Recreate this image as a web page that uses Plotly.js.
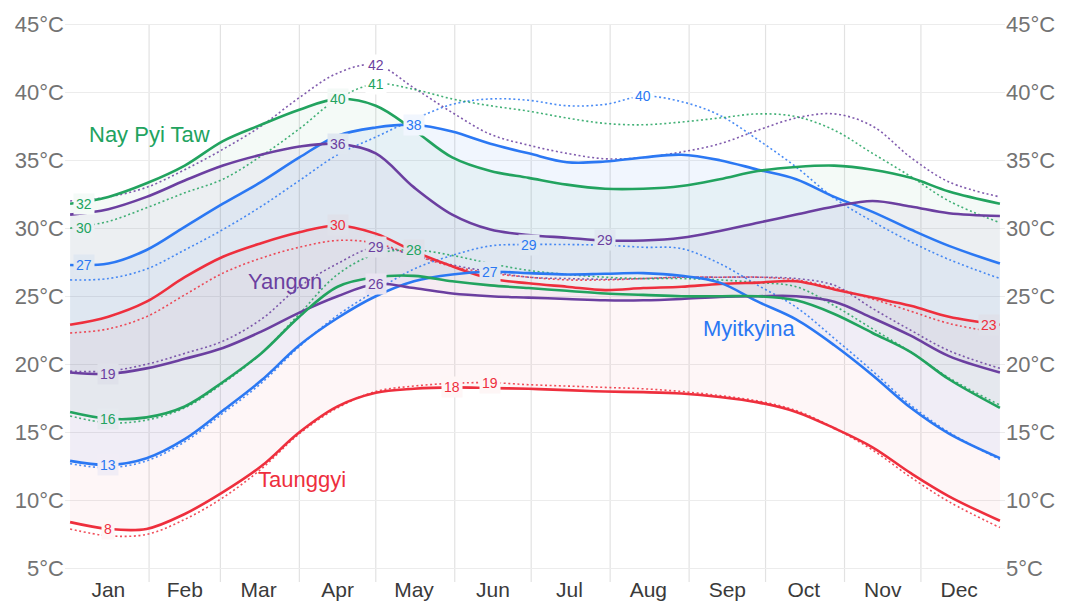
<!DOCTYPE html>
<html>
<head>
<meta charset="utf-8">
<script src="https://cdn.plot.ly/plotly-3.0.1.min.js"></script>
<style>body{margin:0;background:#fff}#chart{width:1065px;height:601px}</style>
</head>
<body>
<div id="chart"></div>
<script>
// day of year (0 = Jan 1)
const days = [0,15,30,45,60,75,90,105,120,135,150,165,180,195,210,225,240,255,270,285,300,315,330,345,365];

const monthNames = ['Jan','Feb','Mar','Apr','May','Jun','Jul','Aug','Sep','Oct','Nov','Dec'];
const monthMid = [15,45,74,105,135,166,196,227,258,288,319,349];
const monthStart = [31,59,90,120,151,181,212,243,273,304,334];
const tempTicks = [5,10,15,20,25,30,35,40,45];

// Nay Pyi Taw
const nptHigh     = [31.8,32.3,33.3,34.6,36.4,37.6,38.7,39.5,39.0,37.2,35.2,34.2,33.7,33.2,32.9,32.9,33.1,33.6,34.2,34.5,34.6,34.3,33.7,32.7,31.8];
const nptHighFeel = [30.0,30.5,31.5,32.6,33.6,35.3,37.3,39.5,40.6,40.2,39.5,39.0,38.6,38.1,37.7,37.6,37.8,38.1,38.4,38.2,37.2,35.5,33.8,32.0,30.4];
const nptLow      = [16.5,16.0,16.1,16.9,18.7,20.8,23.5,25.7,26.4,26.5,26.1,25.8,25.6,25.4,25.2,25.1,25.0,25.0,25.0,24.7,23.7,22.3,20.9,18.9,16.8];
const nptLowFeel  = [16.2,15.7,15.9,16.8,18.6,20.8,23.7,26.6,28.1,28.4,28.0,27.4,26.9,26.6,26.4,26.3,26.3,26.2,26.0,25.7,24.3,22.6,20.9,19.0,17.0];

// Yangon
const ygnHigh     = [31.0,31.4,32.3,33.5,34.6,35.4,36.0,36.2,35.5,33.0,31.0,29.9,29.5,29.3,29.1,29.1,29.3,29.8,30.4,31.0,31.6,32.0,31.6,31.1,30.9];
const ygnHighFeel = [32.0,32.3,33.0,34.3,35.8,37.5,39.6,41.4,42.0,40.3,38.5,36.9,36.1,35.5,35.1,35.2,35.6,36.2,37.2,38.1,38.4,37.5,35.2,33.4,32.3];
const ygnLow      = [19.4,19.3,19.7,20.4,21.2,22.4,23.8,25.0,25.9,25.6,25.2,25.0,24.9,24.8,24.7,24.7,24.8,24.95,25.0,25.0,24.6,23.4,22.1,20.6,19.4];
const ygnLowFeel  = [19.5,19.5,20.0,20.8,21.7,23.3,25.7,27.4,28.6,28.0,27.3,26.8,26.4,26.3,26.25,26.3,26.4,26.4,26.4,26.3,25.8,24.1,22.5,21.0,19.7];

// Myitkyina
const mktHigh     = [27.3,27.4,28.4,30.1,31.8,33.4,35.2,36.8,37.4,37.6,37.1,36.2,35.5,34.85,34.9,35.2,35.4,35.0,34.3,33.6,32.3,31.2,29.9,28.7,27.4];
const mktHighFeel = [26.2,26.3,27.0,28.4,29.9,31.6,33.5,35.4,36.7,38.0,39.1,39.5,39.4,39.0,39.1,39.7,39.3,38.3,36.5,34.5,32.2,30.5,29.0,27.7,26.3];
const mktLow      = [12.9,12.6,13.1,14.5,16.6,18.8,21.4,23.4,25.0,26.1,26.6,26.8,26.7,26.6,26.65,26.7,26.5,26.0,24.6,23.3,21.4,19.2,16.8,14.9,13.1];
const mktLowFeel  = [12.7,12.4,12.9,14.3,16.4,18.6,21.3,23.6,25.4,27.0,28.0,28.7,28.8,28.8,28.75,28.6,28.5,27.4,25.8,24.2,21.9,19.5,17.0,15.0,13.0];

// Taunggyi
const tgyHigh     = [22.9,23.5,24.6,26.4,27.9,28.9,29.7,30.2,29.6,28.3,27.2,26.3,25.95,25.7,25.45,25.6,25.7,25.9,26.0,26.1,25.5,24.9,24.3,23.5,22.9];
const tgyHighFeel = [22.3,22.6,23.5,25.1,26.7,27.8,28.6,29.1,28.9,28.0,27.2,26.7,26.4,26.2,26.2,26.3,26.4,26.4,26.4,26.2,25.6,24.8,23.9,23.0,22.3];
const tgyLow      = [8.4,7.9,7.9,9.0,10.6,12.5,15.0,16.9,17.9,18.2,18.3,18.25,18.2,18.1,18.0,17.95,17.85,17.6,17.2,16.5,15.3,13.9,12.0,10.3,8.5];
const tgyLowFeel  = [7.9,7.4,7.5,8.6,10.2,12.3,14.9,16.8,18.0,18.4,18.6,18.65,18.5,18.4,18.3,18.2,18.0,17.7,17.3,16.6,15.3,13.7,11.7,9.9,8.0];

const cities = [
  {key:'tgy', name:'Taunggyi',    color:'#ee2f3d', rgb:[238,47,61],  alpha:0.045, high:tgyHigh, low:tgyLow, highFeel:tgyHighFeel, lowFeel:tgyLowFeel, lx:91,  ly:11.5},
  {key:'mkt', name:'Myitkyina',   color:'#2b78f3', rgb:[43,120,243], alpha:0.065, high:mktHigh, low:mktLow, highFeel:mktHighFeel, lowFeel:mktLowFeel, lx:266.5, ly:22.6},
  {key:'ygn', name:'Yangon',      color:'#6b3fa0', rgb:[107,63,160], alpha:0.055, high:ygnHigh, low:ygnLow, highFeel:ygnHighFeel, lowFeel:ygnLowFeel, lx:84.5, ly:26.1},
  {key:'npt', name:'Nay Pyi Taw', color:'#22a35f', rgb:[34,163,95],  alpha:0.05,  high:nptHigh, low:nptLow, highFeel:nptHighFeel, lowFeel:nptLowFeel, lx:31,  ly:36.9}
];
const byKey = {}; cities.forEach(c => byKey[c.key] = c);

const labelSpecs = [
  ['npt','high','first'],['npt','high','max'],['npt','highFeel','first'],['npt','highFeel','max'],['npt','low','min'],['npt','lowFeel','max'],
  ['ygn','high','max'],['ygn','high','min'],['ygn','highFeel','max'],['ygn','lowFeel','max'],['ygn','low','max'],['ygn','low','min'],
  ['mkt','high','first'],['mkt','high','max'],['mkt','highFeel','max'],['mkt','lowFeel','max'],['mkt','low','max'],['mkt','low','min'],
  ['tgy','high','max'],['tgy','high','last'],['tgy','low','max'],['tgy','lowFeel','max'],['tgy','low','min']
];

function interp(arr, d) {
  for (let i = 0; i < days.length - 1; i++) {
    if (d >= days[i] && d <= days[i+1]) {
      const t = (d - days[i]) / (days[i+1] - days[i]);
      return arr[i] + t * (arr[i+1] - arr[i]);
    }
  }
  return arr[arr.length - 1];
}
function bgAt(d, v) {
  let c = [255,255,255];
  cities.forEach(city => {
    const lo = interp(city.low, d), hi = interp(city.high, d);
    if (v >= lo - 0.15 && v <= hi + 0.15) {
      c = c.map((ch, k) => ch * (1 - city.alpha) + city.rgb[k] * city.alpha);
    }
  });
  return 'rgb(' + c.map(Math.round).join(',') + ')';
}
function rgba(rgb, a) { return 'rgba(' + rgb.join(',') + ',' + a + ')'; }

const traces = [];
// bands
cities.forEach(city => {
  traces.push({x: days, y: city.low, mode:'lines', line:{width:0, shape:'spline', smoothing:1}, hoverinfo:'skip', showlegend:false});
  traces.push({x: days, y: city.high, mode:'lines', fill:'tonexty', fillcolor: rgba(city.rgb, city.alpha), line:{width:0, shape:'spline', smoothing:1}, hoverinfo:'skip', showlegend:false});
});
// dotted perceived lines
cities.forEach(city => {
  ['highFeel','lowFeel'].forEach(s => {
    traces.push({x: days, y: city[s], mode:'lines', line:{color: city.color, width:1.6, dash:'2px,2.6px', shape:'spline', smoothing:1}, opacity:0.85, hoverinfo:'skip', showlegend:false});
  });
});
// solid lines
cities.forEach(city => {
  ['low','high'].forEach(s => {
    traces.push({x: days, y: city[s], mode:'lines', line:{color: city.color, width:2.6, shape:'spline', smoothing:1}, hoverinfo:'skip', showlegend:false});
  });
});
// dummy trace for right axis
traces.push({x: [], y: [], yaxis:'y2', mode:'lines', hoverinfo:'skip', showlegend:false});

const annotations = [];
labelSpecs.forEach(([k, s, mode]) => {
  const city = byKey[k], arr = city[s];
  let idx = 0;
  if (mode === 'first') idx = 0;
  else if (mode === 'last') idx = arr.length - 1;
  else if (mode === 'max') { arr.forEach((v, i) => { if (v > arr[idx]) idx = i; }); }
  else { arr.forEach((v, i) => { if (v < arr[idx]) idx = i; }); }
  const d = days[idx], v = arr[idx];
  annotations.push({
    x: d, y: v, xref:'x', yref:'y', text: String(Math.round(v)), showarrow:false,
    font:{family:'Liberation Sans, Arial, sans-serif', size:14, color: city.color},
    bgcolor: bgAt(d, v), borderpad:2,
    xshift: mode === 'first' ? 14 : (mode === 'last' ? -11 : 0)
  });
});
cities.forEach(city => {
  annotations.push({x: city.lx, y: city.ly, xref:'x', yref:'y', text: city.name, showarrow:false,
    font:{family:'Liberation Sans, Arial, sans-serif', size:22, color: city.color}});
});

const shapes = monthStart.map(d => ({type:'line', xref:'x', yref:'y', x0:d, x1:d, y0:4, y1:45, line:{color:'#e2e2e2', width:1.2}, layer:'below'}));

const yAxisBase = {
  range:[4,45.3], tickvals: tempTicks, ticktext: tempTicks.map(t => t + '°C'),
  tickfont:{family:'Liberation Sans, Arial, sans-serif', size:22, color:'#737373'},
  showline:false, zeroline:false, ticks:''
};

const layout = {
  width:1065, height:601,
  margin:{l:65, r:60, t:20, b:19},
  paper_bgcolor:'#ffffff', plot_bgcolor:'#ffffff',
  showlegend:false,
  xaxis:{range:[-2,367], tickvals: monthMid, ticktext: monthNames, showgrid:false, zeroline:false, showline:false, ticks:'',
    ticklabelstandoff:-7,
    tickfont:{family:'Liberation Sans, Arial, sans-serif', size:21, color:'#3a3a3a'}, fixedrange:true},
  yaxis: Object.assign({}, yAxisBase, {showgrid:true, gridcolor:'#ececec', gridwidth:1}),
  yaxis2: Object.assign({}, yAxisBase, {overlaying:'y', side:'right', showgrid:false}),
  shapes: shapes,
  annotations: annotations
};

Plotly.newPlot('chart', traces, layout, {staticPlot:true, displayModeBar:false});
</script>
</body>
</html>
